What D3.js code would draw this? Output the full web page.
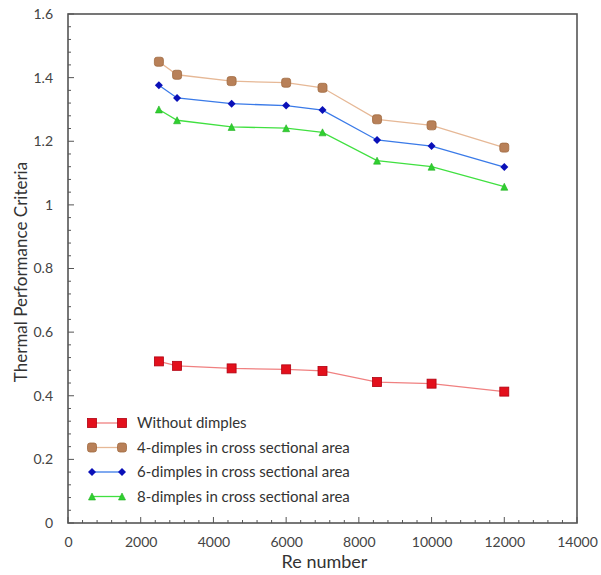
<!DOCTYPE html>
<html><head><meta charset="utf-8">
<script src="https://cdn.jsdelivr.net/npm/d3@7"></script>
<style>body{margin:0;background:#fff}svg{display:block}text{font-family:Lato,"Open Sans",sans-serif}</style>
</head><body><svg id="c" width="601" height="575"></svg>
<script>
const reNumbers = [2500, 3000, 4500, 6000, 7000, 8500, 10000, 12000];
const withoutDimples = [0.508, 0.494, 0.486, 0.483, 0.478, 0.443, 0.438, 0.413];
const dimples4 = [1.450, 1.409, 1.389, 1.384, 1.368, 1.269, 1.250, 1.180];
const dimples6 = [1.376, 1.336, 1.318, 1.312, 1.298, 1.204, 1.185, 1.119];
const dimples8 = [1.300, 1.266, 1.245, 1.241, 1.228, 1.139, 1.120, 1.057];
const seriesNames = ["Without dimples", "4-dimples in cross sectional area", "6-dimples in cross sectional area", "8-dimples in cross sectional area"];
const xTicks = [0, 2000, 4000, 6000, 8000, 10000, 12000, 14000];
const yTicks = [0, 0.2, 0.4, 0.6, 0.8, 1, 1.2, 1.4, 1.6];

const svg = d3.select("#c");
const L = 68, R = 577, T = 14, B = 523;
const x = d3.scaleLinear().domain([0, 14000]).range([L, R]);
const y = d3.scaleLinear().domain([0, 1.6]).range([B, T]);

const styles = [
  {line:"#f08080", fill:"#e3101c", stroke:"#b00010", shape:"square", size:9},
  {line:"#e6b896", fill:"#b88058", stroke:"#a06a40", shape:"rsquare", size:9},
  {line:"#3a7ae8", fill:"#0a10b8", stroke:"#0a10b8", shape:"diamond", size:8},
  {line:"#40e040", fill:"#30d030", stroke:"#20b020", shape:"triangle", size:7}
];
const data = [withoutDimples, dimples4, dimples6, dimples8];

// minor ticks
const g = svg.append("g");
const xMinor = d3.range(0, 14001, 400);
const yMinor = d3.range(0, 1.6001, 0.04);
g.selectAll(".xm").data(xMinor).join("line")
  .attr("x1", d=>x(d)).attr("x2", d=>x(d))
  .attr("y1", B).attr("y2", d=> (Math.round(d) % 2000 === 0) ? B-6 : B-3)
  .attr("stroke", "#555").attr("stroke-width", 1);
g.selectAll(".ym").data(yMinor).join("line")
  .attr("y1", d=>y(d)).attr("y2", d=>y(d))
  .attr("x1", L).attr("x2", (d,i)=> (i % 5 === 0) ? L+6 : L+3)
  .attr("stroke", "#555").attr("stroke-width", 1);

// frame
svg.append("rect").attr("x", L).attr("y", T).attr("width", R-L).attr("height", B-T)
  .attr("fill", "none").attr("stroke", "#555").attr("stroke-width", 1.6);

// axes labels via d3 axis
const xAxis = d3.axisBottom(x).tickValues(xTicks).tickSize(0).tickPadding(14).tickFormat(d3.format("d"));
const yAxis = d3.axisLeft(y).tickValues(yTicks).tickSize(0).tickPadding(15).tickFormat(d=>String(+d.toFixed(1)));
const gx = svg.append("g").attr("transform", `translate(0,${B})`).call(xAxis);
const gy = svg.append("g").attr("transform", `translate(${L},0)`).call(yAxis);
[gx, gy].forEach(a => { a.select(".domain").remove(); a.selectAll("text").attr("fill", "#444").style("font-size", "14px"); });

svg.append("text").attr("x", (L+R)/2 + 2).attr("y", 568).attr("text-anchor", "middle")
  .attr("fill", "#333").style("font-size", "18px").text("Re number");
svg.append("text").attr("transform", `translate(27,272) rotate(-90)`).attr("text-anchor", "middle")
  .attr("fill", "#333").style("font-size", "17px").text("Thermal Performance Criteria");

function marker(sel, st) {
  const s = st.size;
  if (st.shape === "square") {
    sel.append("rect").attr("x", -s/2).attr("y", -s/2).attr("width", s).attr("height", s)
      .attr("fill", st.fill).attr("stroke", st.stroke).attr("stroke-width", 0.8);
  } else if (st.shape === "rsquare") {
    sel.append("rect").attr("x", -s/2).attr("y", -s/2).attr("width", s).attr("height", s).attr("rx", 2.5)
      .attr("fill", st.fill).attr("stroke", st.stroke).attr("stroke-width", 0.8);
  } else if (st.shape === "diamond") {
    sel.append("path").attr("d", `M0,${-s/2}L${s/2},0L0,${s/2}L${-s/2},0Z`).attr("fill", st.fill);
  } else {
    sel.append("path").attr("d", `M0,${-s/2}L${s/2},${s/2}L${-s/2},${s/2}Z`).attr("fill", st.fill).attr("stroke", st.stroke).attr("stroke-width", 0.6);
  }
}

const line = d3.line().x(d=>x(d[0])).y(d=>y(d[1]));
data.forEach((vals, i) => {
  const st = styles[i];
  const pts = reNumbers.map((r, j) => [r, vals[j]]);
  svg.append("path").datum(pts).attr("d", line).attr("fill", "none").attr("stroke", st.line).attr("stroke-width", 1.3);
  svg.append("g").selectAll("g").data(pts).join("g")
    .attr("transform", d=>`translate(${x(d[0])},${y(d[1])})`)
    .each(function(){ marker(d3.select(this), st); });
});

// legend
const legY = [423, 447.5, 472, 496.5];
seriesNames.forEach((name, i) => {
  const st = styles[i];
  const lg = svg.append("g");
  lg.append("line").attr("x1", 92).attr("x2", 122).attr("y1", legY[i]).attr("y2", legY[i]).attr("stroke", st.line).attr("stroke-width", 1.3);
  marker(lg.append("g").attr("transform", `translate(92,${legY[i]})`), st);
  marker(lg.append("g").attr("transform", `translate(122,${legY[i]})`), st);
  lg.append("text").attr("x", 137).attr("y", legY[i]).attr("dy", "0.35em")
    .attr("fill", "#333").style("font-size", "15px").text(name);
});
</script></body></html>
